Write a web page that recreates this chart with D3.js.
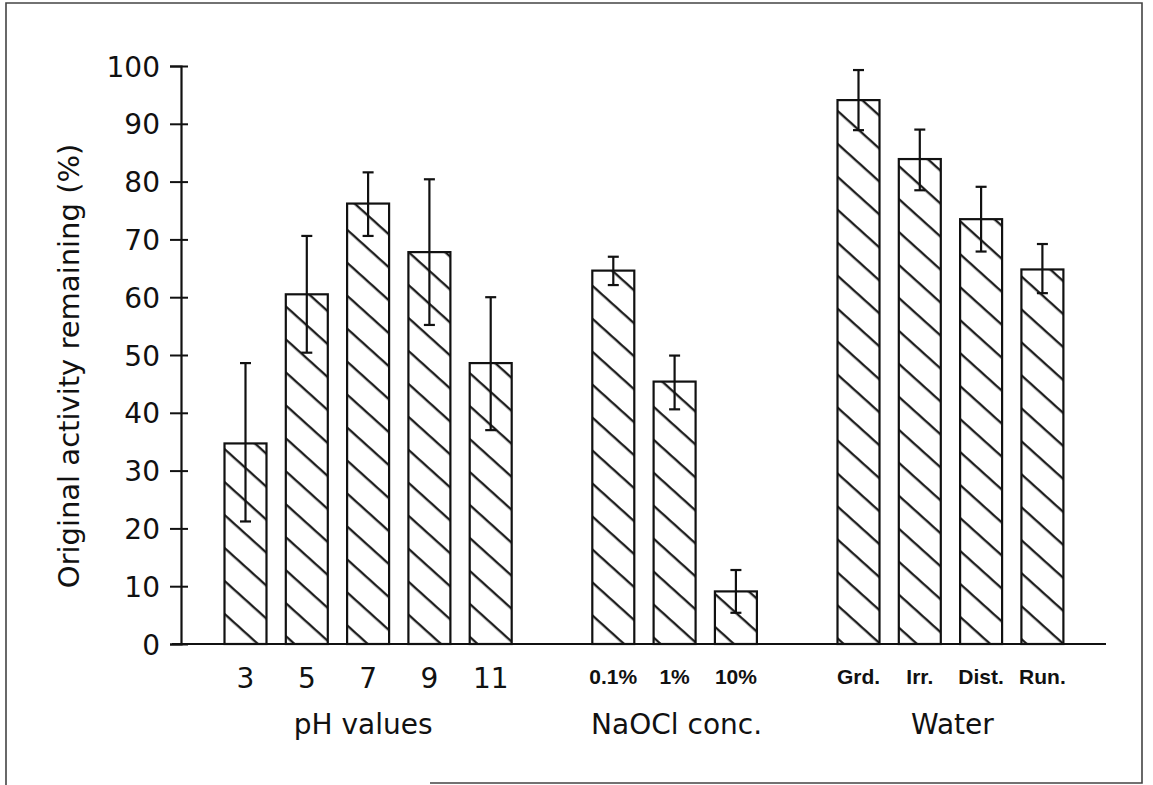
<!DOCTYPE html>
<html><head><meta charset="utf-8">
<script src="https://cdn.jsdelivr.net/npm/d3@7"></script>
<style>
html,body{margin:0;padding:0;background:#fff;}
svg text{fill:#111;}
</style></head>
<body>
<svg id="chart" width="1153" height="785"></svg>
<script>
// ---- data ----
const phCats = ["3","5","7","9","11"];
const phVals = [34.7, 60.5, 76.2, 67.8, 48.6];
const phErrHi = [48.6, 70.6, 81.6, 80.4, 60.0];
const phErrLo = [21.2, 50.4, 70.6, 55.2, 37.0];

const naCats = ["0.1%","1%","10%"];
const naVals = [64.6, 45.4, 9.1];
const naErrHi = [67.0, 49.9, 12.8];
const naErrLo = [62.1, 40.6, 5.4];

const waCats = ["Grd.","Irr.","Dist.","Run."];
const waVals = [94.1, 83.9, 73.5, 64.8];
const waErrHi = [99.3, 89.0, 79.1, 69.2];
const waErrLo = [88.9, 78.5, 67.9, 60.7];

const groupNames = ["pH values", "NaOCl conc.", "Water"];
const yTicks = [0,10,20,30,40,50,60,70,80,90,100];
const yTitle = "Original activity remaining (%)";

const MAIN_FONT = "'DejaVu Sans', sans-serif";
const SMALL_FONT = "'Liberation Sans', Arial, sans-serif";

// ---- build ----
const groups = [
  {name: groupNames[0], cats: phCats, vals: phVals, hi: phErrHi, lo: phErrLo, small: false, dx: -5},
  {name: groupNames[1], cats: naCats, vals: naVals, hi: naErrHi, lo: naErrLo, small: true, dx: 2},
  {name: groupNames[2], cats: waCats, vals: waVals, hi: waErrHi, lo: waErrLo, small: true, dx: 2}
];
const bars = [];
const slots = [];
groups.forEach((g, gi) => {
  if (gi > 0) slots.push("__gap" + gi);
  g.cats.forEach((c, i) => {
    slots.push(c);
    bars.push({cat: c, v: g.vals[i], hi: g.hi[i], lo: g.lo[i], small: g.small});
  });
});

const svg = d3.select("#chart");

// frame
svg.append("path")
  .attr("d", "M6,785 L6,3 L1142,3 L1142,783 L430,783")
  .attr("fill", "none").attr("stroke", "#444").attr("stroke-width", 1.6);

const y = d3.scaleLinear().domain([0, 100]).range([644, 66]);
const x = d3.scaleBand().domain(slots).range([214.85, 1073.05])
  .paddingInner(0.315).paddingOuter(0.1575);

// hatch pattern
const defs = svg.append("defs");
const pat = defs.append("pattern").attr("id", "hatch")
  .attr("patternUnits", "userSpaceOnUse")
  .attr("width", 24.5).attr("height", 24.5)
  .attr("patternTransform", "rotate(42)");
pat.append("rect").attr("width", 24.5).attr("height", 24.5).attr("fill", "#fff");
pat.append("line").attr("x1", -2).attr("x2", 27).attr("y1", 12).attr("y2", 12)
  .attr("stroke", "#111").attr("stroke-width", 2.2);

// bars
svg.append("g").selectAll("rect").data(bars).join("rect")
  .attr("x", d => x(d.cat))
  .attr("y", d => y(d.v))
  .attr("width", x.bandwidth())
  .attr("height", d => y(0) - y(d.v))
  .attr("fill", "url(#hatch)")
  .attr("stroke", "#111").attr("stroke-width", 2.2);

// error bars
const eg = svg.append("g").attr("stroke", "#111").attr("stroke-width", 2.2);
eg.selectAll("line.v").data(bars).join("line").attr("class", "v")
  .attr("x1", d => x(d.cat) + x.bandwidth()/2).attr("x2", d => x(d.cat) + x.bandwidth()/2)
  .attr("y1", d => y(d.hi)).attr("y2", d => y(d.lo));
eg.selectAll("line.t").data(bars).join("line").attr("class", "t")
  .attr("x1", d => x(d.cat) + x.bandwidth()/2 - 5.5).attr("x2", d => x(d.cat) + x.bandwidth()/2 + 5.5)
  .attr("y1", d => y(d.hi)).attr("y2", d => y(d.hi));
eg.selectAll("line.b").data(bars).join("line").attr("class", "b")
  .attr("x1", d => x(d.cat) + x.bandwidth()/2 - 5.5).attr("x2", d => x(d.cat) + x.bandwidth()/2 + 5.5)
  .attr("y1", d => y(d.lo)).attr("y2", d => y(d.lo));

// x axis baseline
svg.append("line").attr("x1", 172).attr("x2", 1106).attr("y1", y(0)).attr("y2", y(0))
  .attr("stroke", "#111").attr("stroke-width", 2.2);

// y axis
const yAxis = svg.append("g").attr("transform", "translate(181,0)")
  .call(d3.axisLeft(y).tickValues(yTicks).tickSizeOuter(0).tickSize(11).tickPadding(10));
yAxis.select(".domain").attr("stroke", "#111").attr("stroke-width", 2.2);
yAxis.selectAll(".tick line").attr("x1", 7).attr("x2", -11).attr("stroke", "#111").attr("stroke-width", 2);
yAxis.selectAll(".tick text")
  .style("font-family", MAIN_FONT).style("font-size", "28px")
  .attr("fill", "#111").attr("dy", "0.36em");

// category labels
svg.append("g").selectAll("text").data(bars).join("text")
  .attr("x", d => x(d.cat) + x.bandwidth()/2)
  .attr("y", d => d.small ? 684 : 688)
  .attr("text-anchor", "middle")
  .style("font-family", d => d.small ? SMALL_FONT : MAIN_FONT)
  .style("font-size", d => d.small ? "21px" : "28px")
  .style("font-weight", d => d.small ? "bold" : "normal")
  .text(d => d.cat);

// group labels
svg.append("g").selectAll("text").data(groups).join("text")
  .attr("x", g => d3.mean(g.cats, c => x(c) + x.bandwidth()/2) + g.dx)
  .attr("y", 734)
  .attr("text-anchor", "middle")
  .style("font-family", MAIN_FONT).style("font-size", "28px")
  .text(g => g.name);

// y title
svg.append("text")
  .attr("transform", "translate(79,366) rotate(-90)")
  .attr("text-anchor", "middle")
  .style("font-family", MAIN_FONT).style("font-size", "29px")
  .text(yTitle);
</script>
</body></html>
